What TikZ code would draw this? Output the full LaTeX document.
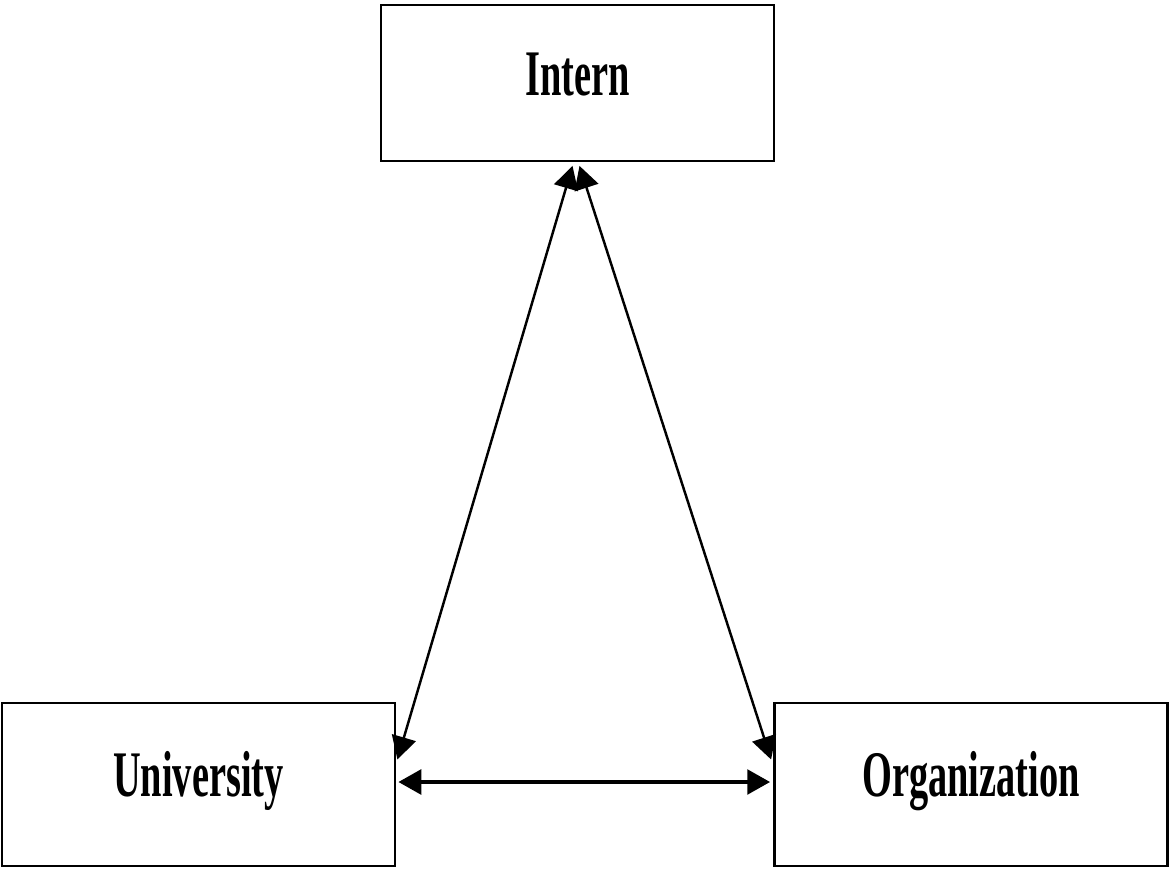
\documentclass[tikz,border=0pt]{standalone}
\usepackage{fontspec}
\newfontfamily\boxfont[FakeStretch=0.59]{Liberation Serif}
\usetikzlibrary{arrows.meta}

\begin{document}
\begin{tikzpicture}[>={Triangle[length=6.5pt,width=7pt]}, semithick,
        box/.style={draw, line width=0.8pt, minimum width=3.93cm, minimum height=1.6cm,
                    font=\boxfont\bfseries\fontsize{18.5}{20}\selectfont,
                    text height=12.2pt, text depth=5.2pt}]
        \useasboundingbox (0,0) rectangle (11.69,8.68);
        \node[box, minimum height=1.56cm] (in)  at (5.775,7.85) {Intern};
        \node[box, minimum height=1.63cm] (un)  at (1.985,0.835) {University};
        \node[box, minimum height=1.63cm] (org) at (9.71,0.835)  {Organization};

        \draw[<->, line width=0.7pt] ([xshift=-0.5mm,yshift=-0.35mm]in.south) -- ([xshift=0.1mm,yshift=2.5mm]un.east);
        \draw[<->, line width=0.7pt] ([xshift=0.2mm,yshift=-0.35mm]in.south) -- ([xshift=-0.2mm,yshift=2.5mm]org.west);
        \draw[<->, line width=1.1pt] ([xshift=0.2mm,yshift=0.25mm]un.east) -- ([xshift=-0.3mm,yshift=0.25mm]org.west);
\end{tikzpicture}
\end{document}
